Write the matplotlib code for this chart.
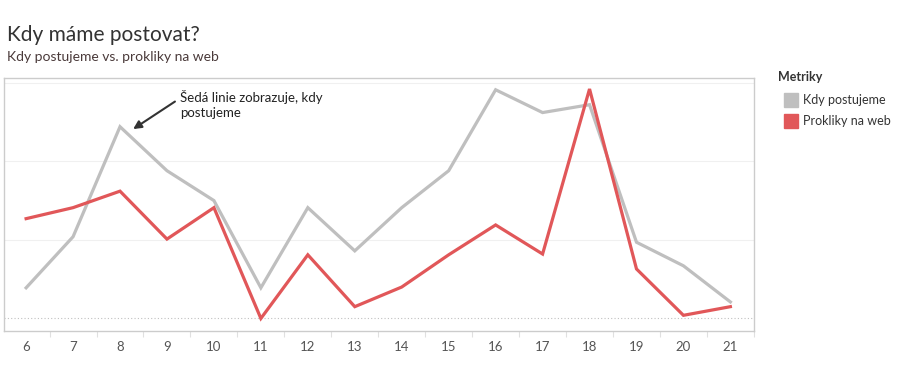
import matplotlib.pyplot as plt
import numpy as np

plt.rcParams['font.family'] = ['Lato', 'DejaVu Sans']

# hour of day (one gridline = 1 unit)
hours = list(range(6, 22))
posts = [0.39, 1.04, 2.44, 1.88, 1.50, 0.39, 1.41, 0.86, 1.41, 1.88,
         2.91, 2.62, 2.72, 0.97, 0.67, 0.21]
clicks = [1.27, 1.41, 1.62, 1.01, 1.41, 0.00, 0.81, 0.15, 0.40, 0.81,
          1.19, 0.82, 2.92, 0.63, 0.04, 0.15]
labels = ['Kdy postujeme', 'Prokliky na web']
colors = ['#bfbfbf', '#e15759']

fig = plt.figure(figsize=(8.98, 3.67), dpi=100)
ax = fig.add_axes([0.0045, 0.098, 0.835, 0.6895])

for y in [1, 2, 3]:
    ax.axhline(y, color='#f0f0f0', lw=0.8, zorder=0)
ax.axhline(0, color='#c0c0c0', lw=0.8, ls=(0, (1, 2)), zorder=0)

ax.plot(hours, posts, color=colors[0], lw=2.3, solid_joinstyle='miter')
ax.plot(hours, clicks, color=colors[1], lw=2.3, solid_joinstyle='miter')

ax.set_xlim(5.53, 21.49)
ax.set_ylim(-0.16, 3.06)
ax.set_yticks([])
ax.set_xticks(hours)
ax.set_xticklabels([str(h) for h in hours], fontsize=9.5, color='#555555')
ax.set_xticks(np.arange(6.5, 21.6, 1), minor=True)
ax.tick_params(axis='x', which='major', length=0, pad=7)
ax.tick_params(axis='x', which='minor', length=4, color='#e0e0e0', width=0.8)
for s in ax.spines.values():
    s.set_color('#cccccc')
    s.set_linewidth(1)

ax.text(9.28, 2.72, 'Šedá linie zobrazuje, kdy\npostujeme', fontsize=9.5,
        color='#222222', va='center', ha='left', linespacing=1.35)
ax.annotate('', xy=(8.28, 2.41), xytext=(9.17, 2.76),
            arrowprops=dict(arrowstyle='-|>', color='#333333', lw=1.5,
                            mutation_scale=12, shrinkA=0, shrinkB=0))

fig.text(0.008, 0.888, 'Kdy máme postovat?', fontsize=15, color='#333333')
fig.text(0.008, 0.834, 'Kdy postujeme vs. prokliky na web', fontsize=10,
         color='#4a3a3a')

fig.text(0.866, 0.778, 'Metriky', fontsize=9, fontweight='bold',
         color='#333333')
for i, (lab, c) in enumerate(zip(labels, colors)):
    yy = 0.728 - i * 0.058
    fig.patches.append(plt.Rectangle((0.873, yy - 0.019), 0.0155, 0.038,
                                     transform=fig.transFigure,
                                     color=c, figure=fig))
    fig.text(0.894, yy, lab, fontsize=9, color='#333333', va='center')

fig.savefig('out.png', dpi=100)
